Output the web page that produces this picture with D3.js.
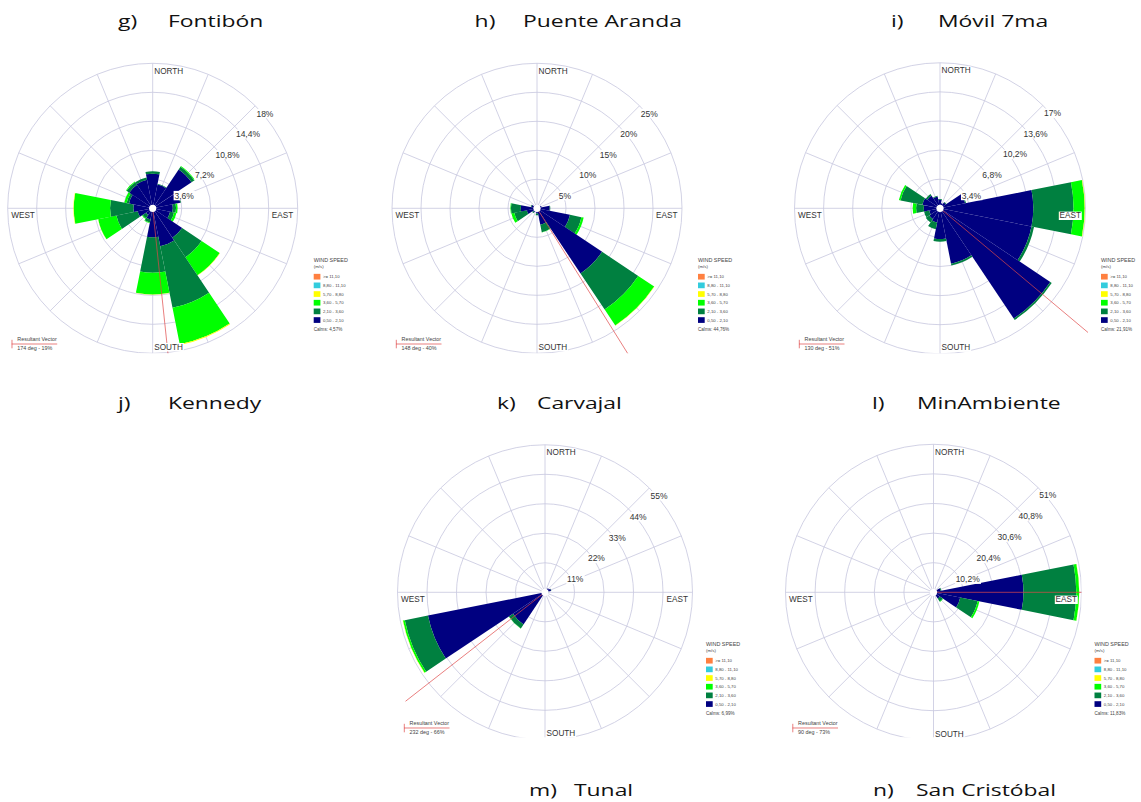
<!DOCTYPE html>
<html><head><meta charset="utf-8">
<script src="https://cdn.jsdelivr.net/npm/d3@7"></script>
<style>body{margin:0;background:#fff} svg{display:block}</style>
</head><body><svg id="c" width="1141" height="802"></svg>
<script>
// ---------- DATA ----------
const directions = ["N","NNE","NE","ENE","E","ESE","SE","SSE","S","SSW","SW","WSW","W","WNW","NW","NNW"];
const speedClasses = ["0,50 - 2,10","2,10 - 3,60","3,60 - 5,70","5,70 - 8,80","8,80 - 11,10",">= 11,10"];
const classColors = ["#000080","#008040","#00ff00","#ffff00","#33ccdd","#ff8040"];
const dirLabels = ["NORTH","EAST","SOUTH","WEST"];

// Fontibón (% per direction, by speed class)
const fontibon_c1 = [4.3,3.0,5.8,3.5,2.5,2.2,4.4,4.8,3.6,1.4,1.0,1.9,2.4,3.0,3.5,3.6];
const fontibon_c2 = [0.3,0.1,0.4,0.1,0.4,0.5,2.9,7.8,4.4,0.4,0.5,2.7,2.9,0.3,0.4,0.3];
const fontibon_c3 = [0,0,0.1,0,0.2,0.3,2.7,4.6,2.7,0.05,0.1,2.3,4.5,0.3,0.1,0];
const fontibon_c4 = [0,0,0,0,0,0,0.05,0.1,0.02,0,0,0.02,0.05,0,0,0];
const fontibonTicks = ["3,6%","7,2%","10,8%","14,4%","18%"];
const fontibonMax = 18;

// Puente Aranda
const puente_c1 = [0.4,0.4,0.5,0.8,2.2,5.8,13.5,2.9,0.9,0.6,0.8,1.8,2.8,1.0,0.6,0.5];
const puente_c2 = [0,0,0,0,0.1,2.0,7.5,1.3,0.3,0,0.2,2.2,1.7,0.1,0,0];
const puente_c3 = [0,0,0,0,0,0.4,3.3,0.05,0,0,0,0.5,0.1,0,0,0];
const puente_c4 = [0,0,0,0,0,0,0.05,0,0,0,0,0,0,0,0,0];
const puenteTicks = ["5%","10%","15%","20%","25%"];
const puenteMax = 25;

// Móvil 7ma
const movil_c1 = [1.0,0.6,0.8,3.0,10.9,10.9,15.5,6.6,3.6,1.7,1.5,1.3,1.9,2.1,1.8,1.4];
const movil_c2 = [0.1,0,0.1,0.1,4.7,0.3,0.2,0.2,0.3,0.8,0.5,0.6,0.9,2.6,0.2,0.1];
const movil_c3 = [0,0,0,0,1.3,0,0,0,0,0,0,0,0.4,0.2,0,0];
const movil_c4 = [0,0,0,0,0.05,0,0,0,0,0,0,0,0,0,0,0];
const movilTicks = ["3,4%","6,8%","10,2%","13,6%","17%"];
const movilMax = 17;

// Tunal
const tunal_c1 = [0.8,1.2,1.8,2.3,1.2,0.6,0.5,0.4,0.5,0.6,14.4,44.5,1.0,0.4,0.3,0.4];
const tunal_c2 = [0,0,0,0.1,0.1,0,0,0,0,0,1.8,8.8,0,0,0,0];
const tunal_c3 = [0,0,0,0,0,0,0,0,0,0,0.1,0.7,0,0,0,0];
const tunal_c4 = [0,0,0,0,0,0,0,0,0,0,0,0.1,0,0,0,0];
const tunalTicks = ["11%","22%","33%","44%","55%"];
const tunalMax = 55;

// San Cristóbal
const sancris_c1 = [0.5,0.8,1.2,2.5,31.0,9.4,2.6,0.8,0.3,0.2,0.2,0.2,0.3,0.8,1.2,0.6];
const sancris_c2 = [0,0,0,0.3,18.2,6.1,1.2,0,0,0,0,0,0,0,0,0];
const sancris_c3 = [0,0,0,0,1.0,0.6,0.2,0,0,0,0,0,0,0,0,0];
const sancris_c4 = [0,0,0,0,0.05,0,0,0,0,0,0,0,0,0,0,0];
const sancrisTicks = ["10,2%","20,4%","30,6%","40,8%","51%"];
const sancrisMax = 51;

// Resultant vectors [deg, %] and calms
const resultantDeg = [174,148,130,232,90];
const resultantPct = [19,40,51,66,73];
const calmsText = ["4,57%","44,76%","21,91%","6,99%","11,83%"];

// Panel titles
const titleLetters = ["g)","h)","i)","j)","k)","l)","m)","n)"];
const titleNames = ["Fontibón","Puente Aranda","Móvil 7ma","Kennedy","Carvajal","MinAmbiente","Tunal","San Cristóbal"];

// ---------- LAYOUT ----------
const titlePos = [[118,168,26.7],[474.6,523,26.7],[891,938,26.7],[118,168,409],[497,537,409],[872,917,409],[529,574,796],[873,916,796]];
const roseLayout = [
  {cx:152.7, cy:208.3, R:145},
  {cx:537, cy:208.3, R:145},
  {cx:940, cy:208.3, R:145.5},
  {cx:545, cy:592.3, R:147.5},
  {cx:933.5, cy:592.3, R:148}
];

const stations = [
  {data:[fontibon_c1,fontibon_c2,fontibon_c3,fontibon_c4], ticks:fontibonTicks, max:fontibonMax},
  {data:[puente_c1,puente_c2,puente_c3,puente_c4], ticks:puenteTicks, max:puenteMax},
  {data:[movil_c1,movil_c2,movil_c3,movil_c4], ticks:movilTicks, max:movilMax},
  {data:[tunal_c1,tunal_c2,tunal_c3,tunal_c4], ticks:tunalTicks, max:tunalMax},
  {data:[sancris_c1,sancris_c2,sancris_c3,sancris_c4], ticks:sancrisTicks, max:sancrisMax}
];

const svg = d3.select("#c");
const defs = svg.append("defs");
const FONT = "'Liberation Sans', Arial, sans-serif";
const GRID = "#c6c6de";

// titles
titleLetters.forEach((l,i)=>{
  const [xl,xn,y] = titlePos[i];
  [[l,xl],[titleNames[i],xn]].forEach(([t,x])=>{
    svg.append("text").attr("transform",`translate(${x},${y}) scale(1.43,1)`)
      .attr("font-family","'Open Sans', sans-serif").attr("font-size",16).attr("fill","#111").text(t);
  });
});

function boxedText(g, x, y, txt, size, anchor){
  const t = g.append("text").attr("x",x).attr("y",y).attr("font-family",FONT)
    .attr("font-size",size).attr("fill","#333").attr("text-anchor",anchor||"start").text(txt);
  const b = t.node().getBBox();
  g.insert("rect", () => t.node()).attr("x",b.x-0.8).attr("y",b.y+0.3).attr("width",b.width+1.6).attr("height",b.height-0.6).attr("fill","#fff");
  return t;
}

stations.forEach((st, si)=>{
  const {cx, cy, R} = roseLayout[si];
  const r = d3.scaleLinear().domain([0, st.max]).range([0, R]);
  const clipId = "clip"+si;
  defs.append("clipPath").attr("id",clipId).append("rect").attr("x",-150).attr("y",-152).attr("width",298).attr("height",297);
  const outer = svg.append("g").attr("transform",`translate(${cx},${cy})`);
  const g = outer.append("g").attr("clip-path",`url(#${clipId})`);

  // rings
  const ringVals = st.ticks.map((t,i)=> st.max*(i+1)/st.ticks.length);
  g.selectAll("circle.ring").data(ringVals).join("circle").attr("class","ring")
    .attr("r", d=>r(d)).attr("fill","none").attr("stroke",GRID).attr("stroke-width",0.8);
  // spokes
  g.selectAll("line.spoke").data(directions).join("line").attr("class","spoke")
    .attr("x1",0).attr("y1",0)
    .attr("x2",(d,i)=> Math.sin(i*Math.PI/8)*R)
    .attr("y2",(d,i)=> -Math.cos(i*Math.PI/8)*R)
    .attr("stroke",GRID).attr("stroke-width",0.8);

  // petals
  const arc = d3.arc();
  const segs = [];
  directions.forEach((d,i)=>{
    let cum = 0;
    st.data.forEach((arr,k)=>{
      const v = arr[i];
      if (v>0){
        segs.push({i, k, a0:cum, a1:cum+v});
        cum += v;
      }
    });
  });
  const half = Math.PI/16;
  g.selectAll("path.petal").data(segs).join("path").attr("class","petal")
    .attr("d", s => arc({innerRadius:r(s.a0), outerRadius:r(s.a1), startAngle:s.i*Math.PI/8 - half, endAngle:s.i*Math.PI/8 + half}))
    .attr("fill", s=>classColors[s.k]);

  // resultant vector
  const ang = resultantDeg[si]*Math.PI/180;
  const L = r(resultantPct[si]);
  g.append("line").attr("x1",0).attr("y1",0).attr("x2",Math.sin(ang)*L).attr("y2",-Math.cos(ang)*L)
    .attr("stroke","#e04848").attr("stroke-width",0.7);

  // calm circle
  g.append("circle").attr("r",3.6).attr("fill","#fff");

  // direction labels
  boxedText(g, 1.6, -R+10.5, dirLabels[0], 8.2, "start");
  boxedText(g, R-4.5, 10, dirLabels[1], 8.2, "end");
  boxedText(g, 1.6, R-3.6, dirLabels[2], 8.2, "start");
  boxedText(g, -R+3.5, 10, dirLabels[3], 8.2, "start");

  // ring labels
  ringVals.forEach((v,i)=>{
    const rr = r(v);
    boxedText(g, rr*Math.SQRT1_2+1.2, -rr*Math.SQRT1_2+10.8, st.ticks[i], 8.5, "start");
  });

  // wind speed legend
  const lg = outer.append("g").attr("transform","translate(161,0)");
  lg.append("text").attr("x",0).attr("y",53.5).attr("font-family",FONT).attr("font-size",5.4).attr("fill","#444").text("WIND SPEED");
  lg.append("text").attr("x",0).attr("y",60).attr("font-family",FONT).attr("font-size",4.4).attr("fill","#444").text("(m/s)");
  const order = [5,4,3,2,1,0];
  order.forEach((k,j)=>{
    const yc = 68.4 + j*8.67;
    lg.append("rect").attr("x",0).attr("y",yc-2.85).attr("width",6.7).attr("height",5.7).attr("fill",classColors[k]);
    lg.append("text").attr("x",9.3).attr("y",yc+1.6).attr("font-family",FONT).attr("font-size",4.3).attr("fill","#444").text(speedClasses[k]);
  });
  lg.append("text").attr("x",0).attr("y",122.6).attr("font-family",FONT).attr("font-size",4.6).attr("fill","#444").text("Calms: "+calmsText[si]);

  // resultant vector legend
  const rg = outer.append("g").attr("transform","translate(-141,0)");
  rg.append("line").attr("x1",0).attr("x2",45.5).attr("y1",135.7).attr("y2",135.7).attr("stroke","#e04848").attr("stroke-width",0.7);
  rg.append("line").attr("x1",0.3).attr("x2",0.3).attr("y1",131.5).attr("y2",140).attr("stroke","#e04848").attr("stroke-width",0.7);
  rg.append("text").attr("x",5.6).attr("y",133).attr("font-family",FONT).attr("font-size",5.4).attr("fill","#444").text("Resultant Vector");
  rg.append("text").attr("x",5.6).attr("y",142).attr("font-family",FONT).attr("font-size",5.4).attr("fill","#444").text(resultantDeg[si]+" deg - "+resultantPct[si]+"%");
});
</script></body></html>
